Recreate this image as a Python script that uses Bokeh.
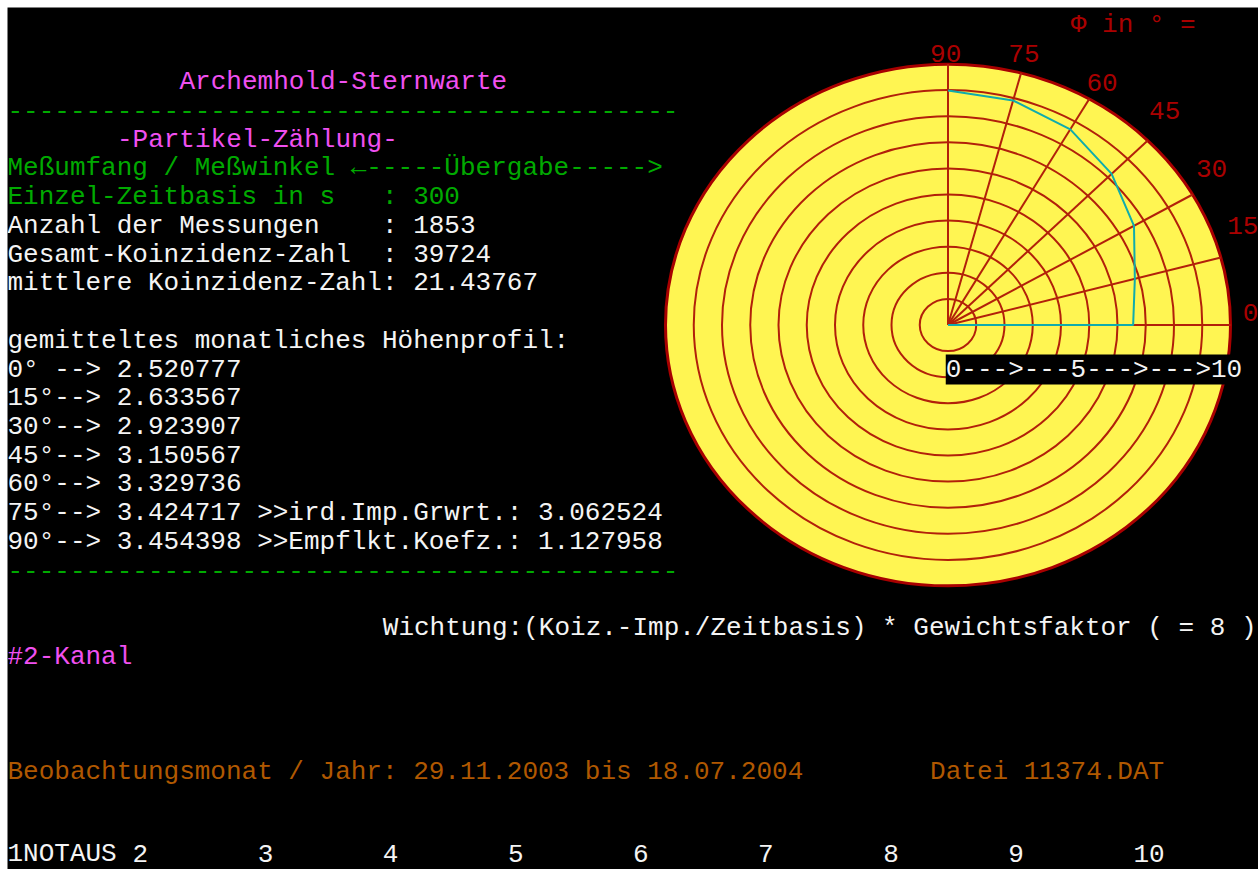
import math
import re
from bokeh.plotting import figure
from bokeh.models import Range1d, Label
from bokeh.embed import file_html
from bokeh.resources import INLINE

# ---------------- data ----------------
angles = [0, 15, 30, 45, 60, 75, 90]
profile = [2.520777, 2.633567, 2.923907, 3.150567, 3.329736, 3.424717, 3.454398]
rings = [1, 2, 3, 4, 5, 6, 7, 8, 9]
ring_max = 10
zeitbasis = 300
anzahl = 1853
gesamt = 39724
mittlere = 21.43767
grwrt = 3.062524
koefz = 1.127958
gewicht = 8
zeitraum = ("29.11.2003", "18.07.2004")
datei = "11374.DAT"
kanal = "#2-Kanal"
fkeys = ["1NOTAUS", "2", "3", "4", "5", "6", "7", "8", "9", "10"]
scale_text = "0--->---5--->--->10"

# ---------------- layout ----------------
W, H = 1251, 862          # black text screen (frame)
PAD = 7                   # white edge above and left of the screen
COLS, ROWS = 80, 30
cw, rh = W / COLS, H / ROWS
cx_px, cy_px = 940.5, 317.5     # polar centre (from left / from top of frame)
ux, uy = 28.25, 26.1            # px per ring unit
rscale = 2.6                    # ring units per profile unit

FONT = "Liberation Mono"
FSIZE = "26px"
MAGENTA, GREEN, WHITE, BROWN, RED, CYAN = "#f050f0", "#00aa00", "#f4f4f4", "#b05800", "#aa0000", "#10acac"
YELLOW, RINGC = "#fff552", "#b2200a"

p = figure(width=W + PAD, height=H + PAD,
           x_range=Range1d(-cx_px / ux, (W - cx_px) / ux),
           y_range=Range1d(-(H - cy_px) / uy, cy_px / uy),
           output_backend="svg", toolbar_location=None,
           x_axis_type=None, y_axis_type=None,
           min_border_left=PAD, min_border_top=PAD, min_border_right=0, min_border_bottom=0,
           background_fill_color="black", border_fill_color="white",
           outline_line_color=None)
p.grid.visible = False

# disk and rings
p.ellipse(x=0, y=0, width=2 * ring_max, height=2 * ring_max,
          fill_color=YELLOW, line_color="#a80000", line_width=3)
p.ellipse(x=[0] * len(rings), y=[0] * len(rings),
          width=[2 * r for r in rings], height=[2 * r for r in rings],
          fill_color=None, line_color=RINGC, line_width=2)

# rays
p.segment(x0=[0] * len(angles), y0=[0] * len(angles),
          x1=[ring_max * math.cos(math.radians(a)) for a in angles],
          y1=[ring_max * math.sin(math.radians(a)) for a in angles],
          line_color=RINGC, line_width=2)

# profile line (from centre)
px = [0] + [rscale * v * math.cos(math.radians(a)) for a, v in zip(angles, profile)]
py = [0] + [rscale * v * math.sin(math.radians(a)) for a, v in zip(angles, profile)]
p.line(px, py, line_color=CYAN, line_width=2)


def keep_spaces(t):
    # runs of blanks would collapse in SVG text
    return re.sub(r" {2,}", lambda m: "\u00a0" * len(m.group(0)), t)


def put(text, col, row, color, bg=None):
    yc = min((row + 0.6) * rh, H - 16)      # keep the last line inside the screen
    lab = Label(x=col * cw, y=H - yc, x_units="screen", y_units="screen",
                text=keep_spaces(text), text_color=color, text_font=FONT, text_font_size=FSIZE,
                text_baseline="middle", text_align="left")
    if bg is not None:
        lab.background_fill_color = bg
    p.add_layout(lab)


# angle labels, snapped to the text grid
put("\u03a6 in \u00b0 =", 68, 0, RED)
for a in angles:
    s = str(a)
    xs = cx_px + 10.8 * ux * math.cos(math.radians(a))
    ys = cy_px - 10.11 * uy * math.sin(math.radians(a)) - 22
    col = round(xs / cw - len(s) / 2)
    row = math.floor(ys / rh)
    put(s, col, row, RED)

put(scale_text, 60, 12, WHITE, bg="black")

# left text block
put("Archemhold-Sternwarte", 11, 2, MAGENTA)
put("-" * 43, 0, 3, GREEN)
put("-Partikel-Z\u00e4hlung-", 7, 4, MAGENTA)
put("Me\u00dfumfang / Me\u00dfwinkel \u2190-----\u00dcbergabe----->", 0, 5, GREEN)
put(f"{'Einzel-Zeitbasis in s':<24}: {zeitbasis}", 0, 6, GREEN)
put(f"{'Anzahl der Messungen':<24}: {anzahl}", 0, 7, WHITE)
put(f"{'Gesamt-Koinzidenz-Zahl':<24}: {gesamt}", 0, 8, WHITE)
put(f"{'mittlere Koinzidenz-Zahl':<24}: {mittlere}", 0, 9, WHITE)
put("gemitteltes monatliches H\u00f6henprofil:", 0, 11, WHITE)
extra = {75: f" >>ird.Imp.Grwrt.: {grwrt:.6f}", 90: f" >>Empflkt.Koefz.: {koefz:.6f}"}
for i, (a, v) in enumerate(zip(angles, profile)):
    put(f"{str(a) + chr(176):<3}--> {v:.6f}" + extra.get(a, ""), 0, 12 + i, WHITE)
put("-" * 43, 0, 19, GREEN)

put(f"Wichtung:(Koiz.-Imp./Zeitbasis) * Gewichtsfaktor ( = {gewicht} )", 24, 21, WHITE)
put(kanal, 0, 22, MAGENTA)
put(f"Beobachtungsmonat / Jahr: {zeitraum[0]} bis {zeitraum[1]}", 0, 26, BROWN)
put(f"Datei {datei}", 59, 26, BROWN)
for i, k in enumerate(fkeys):
    put(k, 8 * i, 29, WHITE)

open("out.html", "w").write(file_html(p, INLINE))
